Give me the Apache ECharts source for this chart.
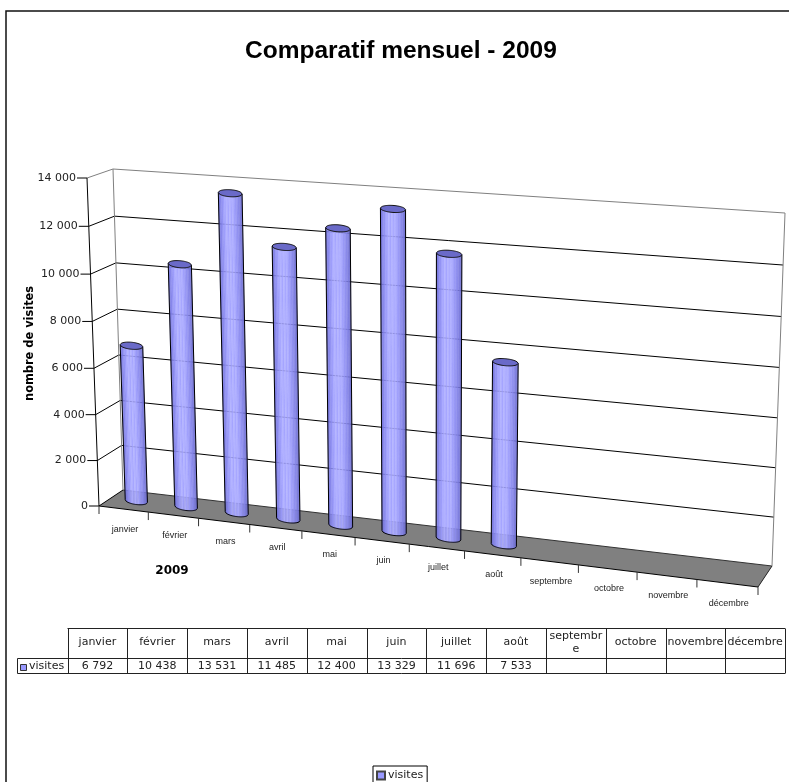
<!DOCTYPE html>
<html><head><meta charset="utf-8">
<style>html,body{margin:0;padding:0;background:#fff}#c{width:789px;height:782px}</style>
<script src="https://cdn.jsdelivr.net/npm/echarts@6/dist/echarts.min.js"></script>
</head><body><div id="c"></div>
<script>
const categories = ['janvier','février','mars','avril','mai','juin','juillet','août','septembre','octobre','novembre','décembre'];
const tableHeaders = ['janvier','février','mars','avril','mai','juin','juillet','août','septembr\ne','octobre','novembre','décembre'];
const visites = [6792,10438,13531,11485,12400,13329,11696,7533,null,null,null,null];
const yTicks = [0,2000,4000,6000,8000,10000,12000,14000];
const yTickLabels = ['0','2 000','4 000','6 000','8 000','10 000','12 000','14 000'];
const seriesName = 'visites';
const titleText = 'Comparatif mensuel - 2009';
const yTitle = 'nombre de visites';
const xTitle = '2009';

const G = {left:99, top:178, width:659, height:328};
const FRONT = [[99,506],[758,587],[771.5,220],[87,178]];
const BACK  = [[123,490],[772,566],[785,213],[113,169]];
const stripeColors = ['#7272da','#8080e8','#8c8cf2','#9898fa','#a2a2ff','#aeaeff','#a0a0ff','#b0b0ff','#a2a2ff','#acacff','#9c9cfc','#9494f6','#8c8cf0','#8484e8','#7a7adf','#7070d2'];

function homography(q){
  const [[x0,y0],[x1,y1],[x2,y2],[x3,y3]] = q;
  const dx1=x1-x2,dx2=x3-x2,sx=x0-x1+x2-x3,dy1=y1-y2,dy2=y3-y2,sy=y0-y1+y2-y3;
  const den=dx1*dy2-dx2*dy1, g=(sx*dy2-dx2*sy)/den, h=(dx1*sy-sx*dy1)/den;
  const a=x1-x0+g*x1,b=x3-x0+h*x3,d=y1-y0+g*y1,e=y3-y0+h*y3;
  return (s,t)=>{const w=g*s+h*t+1;return [(a*s+b*t+x0)/w,(d*s+e*t+y0)/w];};
}
const HF=homography(FRONT), HB=homography(BACK);
// project a pixel from the flat hidden grid onto the tilted 3D box; depth 0 = front, 1 = back
function proj(p,depth){
  const s=(p[0]-G.left)/G.width, t=(G.top+G.height-p[1])/G.height;
  const f=HF(s,t), b=HB(s,t);
  return [f[0]+(b[0]-f[0])*depth, f[1]+(b[1]-f[1])*depth];
}
const line=(a,b,color,w)=>({type:'line',shape:{x1:a[0],y1:a[1],x2:b[0],y2:b[1]},style:{stroke:color,lineWidth:w||1},silent:true});
const text=(t,x,y,o)=>({type:'text',x,y,rotation:o.rotation||0,silent:true,style:Object.assign({text:t,fill:'#111',align:'center',verticalAlign:'middle'},o.style)});

function renderBox(params,api){
  const bw=api.size([1,0])[0];
  const c0=api.coord([0,0]);
  const x0=c0[0]-bw/2, x1=x0+bw*categories.length;
  const yTop=api.coord([0,yTicks[yTicks.length-1]])[1], yBot=c0[1];
  const ch=[];
  ch.push({type:'polygon',shape:{points:[proj([x0,yBot],0),proj([x1,yBot],0),proj([x1,yBot],1),proj([x0,yBot],1)]},style:{fill:'#808080',stroke:null},silent:true});
  yTicks.forEach((v,i)=>{
    const y=api.coord([0,v])[1];
    const isTop=i===yTicks.length-1, isBot=i===0;
    const fl=proj([x0,y],0), bl=proj([x0,y],1), br=proj([x1,y],1);
    ch.push(line(bl,br,isTop?'#808080':(isBot?'#333':'#000')));
    ch.push(line(fl,bl,isTop?'#808080':'#000'));
    ch.push(line([fl[0]-10,fl[1]],fl,'#000'));
    ch.push(text(yTickLabels[i],fl[0]-11,fl[1],{style:{align:'right',font:'11px "DejaVu Sans"',fill:'#222'}}));
  });
  ch.push(line(proj([x0,yTop],1),proj([x0,yBot],1),'#808080'));
  ch.push(line(proj([x1,yTop],1),proj([x1,yBot],1),'#808080'));
  ch.push(line(proj([x0,yTop],0),proj([x0,yBot],0),'#000'));
  ch.push(line(proj([x0,yBot],0),proj([x1,yBot],0),'#000'));
  ch.push(line(proj([x1,yBot],0),proj([x1,yBot],1),'#222'));
  categories.forEach((c,i)=>{
    const cx=api.coord([i,0])[0];
    const a=proj([cx+bw/2,yBot],0);
    ch.push(line(a,[a[0],a[1]+8],'#333'));
    const m=proj([cx,yBot],0);
    ch.push(text(c,m[0]+1.5,m[1]+20,{style:{font:'9px "Liberation Sans"',fill:'#222'}}));
  });
  const a0=proj([x0,yBot],0);
  ch.push(line(a0,[a0[0],a0[1]+8],'#333'));
  const yMid=(yTop+yBot)/2;
  const lab=proj([x0,yMid],0);
  ch.push(text(yTitle,30,lab[1]-1.5,{rotation:Math.PI/2,style:{font:'bold 11.4px "DejaVu Sans"',fill:'#000'}}));
  ch.push(text(xTitle,172,571,{style:{font:'bold 12px "DejaVu Sans"',fill:'#000'}}));
  return {type:'group',children:ch};
}

function renderColumn(params,api){
  const v=api.value(1);
  if(v==null||isNaN(v)) return null;
  const i=api.value(0);
  const c=api.coord([i,0]), t=api.coord([i,v]);
  const bw=api.size([1,0])[0], half=bw*0.225, off=bw*0.015;
  const BL=proj([c[0]-half+off,c[1]],0.5), BR=proj([c[0]+half+off,c[1]],0.5);
  const TL=proj([t[0]-half+off,t[1]],0.5), TR=proj([t[0]+half+off,t[1]],0.5);
  const ry=3.5, n=stripeColors.length, ch=[];
  const arc=u=>ry*Math.sqrt(Math.max(0,1-(2*u-1)*(2*u-1)));
  const at=(A,B,u,dy)=>[A[0]+(B[0]-A[0])*u,A[1]+(B[1]-A[1])*u+dy];
  stripeColors.forEach((col,j)=>{
    const u0=j/n,u1=(j+1)/n;
    ch.push({type:'polygon',shape:{points:[at(TL,TR,u0,0),at(TL,TR,u1,0),at(BL,BR,u1,arc(u1)),at(BL,BR,u0,arc(u0))]},style:{fill:col,stroke:col,lineWidth:0.4,opacity:0.93},silent:true});
  });
  const bottom=[];
  for(let k=0;k<=24;k++) bottom.push(at(BL,BR,k/24,arc(k/24)));
  ch.push({type:'polyline',shape:{points:[TL].concat(bottom,[TR])},style:{stroke:'#000',lineWidth:1,fill:null},silent:true});
  const top=[];
  for(let k=0;k<=24;k++) top.push(at(TL,TR,k/24,arc(k/24)));
  for(let k=24;k>=0;k--) top.push(at(TL,TR,k/24,-arc(k/24)));
  ch.push({type:'polygon',shape:{points:top},style:{fill:'#6a6ac8',stroke:'#111',lineWidth:1},silent:true});
  return {type:'group',children:ch};
}

// data table
const tbl={x0:67.5,colW:59.8,yTop:628.5,yMid:658.5,yBot:673.5,keyX:17.5};
const tblElems=[];
const tline=(x1,y1,x2,y2)=>tblElems.push({type:'line',silent:true,shape:{x1,y1,x2,y2},style:{stroke:'#222',lineWidth:1}});
const ttext=(t,x,y,lh)=>tblElems.push({type:'text',silent:true,x,y,style:{text:t,font:'11px "DejaVu Sans"',fill:'#222',align:'center',verticalAlign:'middle',lineHeight:lh||13}});
const tx1=tbl.x0+tbl.colW*categories.length;
tline(tbl.x0,tbl.yTop,tx1,tbl.yTop);
tline(tbl.keyX,tbl.yMid,tx1,tbl.yMid);
tline(tbl.keyX,tbl.yBot,tx1,tbl.yBot);
tline(tbl.keyX,tbl.yMid,tbl.keyX,tbl.yBot);
for(let i=0;i<=categories.length;i++){const x=Math.round(tbl.x0+tbl.colW*i)+.5;tline(x,tbl.yTop,x,tbl.yBot);}
tableHeaders.forEach((h,i)=>{
  const x=tbl.x0+tbl.colW*(i+.5);
  ttext(h,x,(tbl.yTop+tbl.yMid)/2-1);
  const v=visites[i];
  if(v!=null) ttext(String(v).replace(/\B(?=(\d{3})+$)/g,' '),x,(tbl.yMid+tbl.yBot)/2);
});
tblElems.push({type:'rect',silent:true,shape:{x:20.5,y:664.5,width:6,height:6},style:{fill:'#9999ff',stroke:'#333',lineWidth:1}});
tblElems.push({type:'text',silent:true,x:29,y:666,style:{text:seriesName,font:'11px "DejaVu Sans"',fill:'#222',align:'left',verticalAlign:'middle'}});
// outer frame: only top and left edges lie inside the picture
tblElems.push({type:'polyline',silent:true,shape:{points:[[6,782],[6,11],[789,11]]},style:{stroke:'#111',lineWidth:1.5,fill:null}});

const chart=echarts.init(document.getElementById('c'),null,{renderer:'canvas'});
chart.setOption({
  animation:false,
  backgroundColor:'#fff',
  title:{text:titleText,left:245,top:39,textStyle:{fontFamily:'Liberation Sans',fontWeight:'bold',fontSize:24.5,color:'#000'},padding:0},
  legend:{data:[{name:seriesName,icon:'rect'}],left:373,top:766,padding:[4,4,3,3],itemWidth:8,itemHeight:8,itemGap:3,borderColor:'#000',borderWidth:1,selectedMode:false,textStyle:{fontFamily:'DejaVu Sans',fontSize:11,color:'#222',padding:[0,0,0,-2]}},
  grid:{left:G.left,top:G.top,width:G.width,height:G.height},
  xAxis:{type:'category',data:categories,show:false},
  yAxis:{type:'value',min:0,max:14000,interval:2000,show:false},
  graphic:{elements:tblElems},
  series:[
    {type:'custom',name:'cadre',coordinateSystem:'cartesian2d',data:[[0,0]],renderItem:renderBox,silent:true,z:1,clip:false,encode:{x:0,y:1}},
    {type:'custom',name:seriesName,coordinateSystem:'cartesian2d',data:visites.map((v,i)=>[i,v]),renderItem:renderColumn,silent:true,z:2,clip:false,encode:{x:0,y:1},itemStyle:{color:'#9999ff',borderColor:'#444',borderWidth:0.6}}
  ]
});
</script></body></html>
